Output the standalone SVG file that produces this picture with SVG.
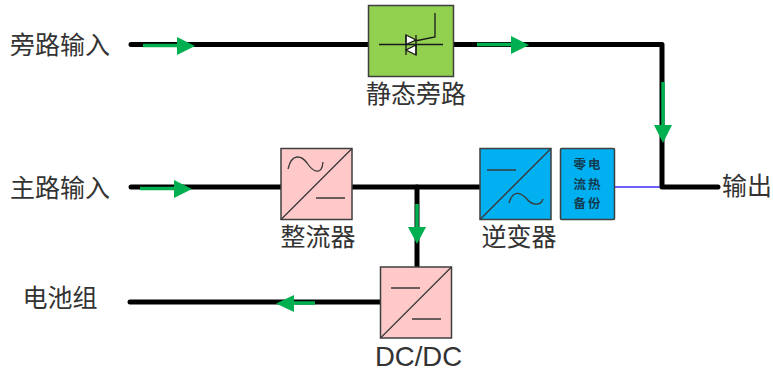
<svg xmlns="http://www.w3.org/2000/svg" width="773" height="372" viewBox="0 0 773 372">
<style>
.w{fill:none;stroke:#000;stroke-width:5;stroke-linecap:round;stroke-linejoin:round}
.g{fill:none;stroke:#00b050;stroke-width:3.500}
.h{fill:#00b050}
.b{stroke:#3f3f3f;stroke-width:1.500}
.s{fill:none;stroke:#3a3a3a;stroke-width:1.300}
.t{font-family:"Noto Sans CJK SC","Liberation Sans",sans-serif;font-size:25px;fill:#333;text-anchor:middle}
.e{font-family:"Liberation Sans",sans-serif;font-size:27.500px;fill:#333;text-anchor:middle}
.m{font-family:"Noto Sans CJK SC",sans-serif;font-size:12.500px;font-weight:700;fill:#123c50;text-anchor:middle;letter-spacing:2px}
</style>
<g id="connectors">
<path d="M615 187H660" fill="none" stroke="#3c2cf5" stroke-width="1.500"/>
<path class="w" d="M131 44.500H662V187H718"/>
<path class="w" d="M131 187H480"/>
<path class="w" d="M417 187V266"/>
<path class="w" d="M130 302H380"/>
<path class="g" d="M143 45.500H178"/><path class="h" d="M177 37L195 46L177 55Z"/>
<path class="g" d="M477 44.500H512"/><path class="h" d="M511 36L529 45L511 54Z"/>
<path class="g" d="M140 188.500H175"/><path class="h" d="M174 180L192 189L174 198Z"/>
<path class="g" d="M417 204V228"/><path class="h" d="M408 227L417 244L426 227Z"/>
<path class="g" d="M663 82V126"/><path class="h" d="M654 125L663 143L672 125Z"/>
<path class="g" d="M315 303H293"/><path class="h" d="M294 295L276 303.500L294 312Z"/>
</g>
<g id="static-bypass">
<rect class="b" x="368.500" y="5.500" width="85" height="71" fill="#92d050"/>
<path d="M379 44.500H443M435 13V37L415 41" fill="none" stroke="#1a1a1a" stroke-width="1.300"/>
<path d="M406 35L416 40L406 44.500Z" fill="#fff" stroke="#1a1a1a" stroke-width="1.300"/>
<path d="M416 45L406 50L416 55Z" fill="#fff" stroke="#1a1a1a" stroke-width="1.300"/>
<path d="M406 35V55M416 35V55" fill="none" stroke="#1a1a1a" stroke-width="1.300"/>
<text class="t" x="416" y="103">静态旁路</text>
</g>
<g id="rectifier">
<rect class="b" x="281" y="148.500" width="71" height="71" fill="#ffc9c9"/>
<path class="s" d="M281 219.500L352 148.500M316 198H345M288 169C292 152 302 156 307 163C313 172 322 176 323 162"/>
<text class="t" x="318" y="246">整流器</text>
</g>
<g id="inverter">
<rect class="b" x="480" y="148.500" width="71" height="71" fill="#00b0f0"/>
<path class="s" d="M480 219.500L551 148.500M487 170H516M509 203C513 190 520 192 526 198C532 206 541 206 543 199"/>
<text class="t" x="519" y="246">逆变器</text>
</g>
<g id="zero-current-backup">
<rect class="b" x="560.500" y="148.500" width="54" height="71" rx="1" fill="#00b0f0"/>
<text class="m" x="588" y="169">零电</text>
<text class="m" x="588" y="189">流热</text>
<text class="m" x="588" y="208">备份</text>
</g>
<g id="dcdc">
<rect class="b" x="380.500" y="267" width="71" height="71" fill="#ffc9c9"/>
<path class="s" d="M380.500 338L451.500 267M391 288H420M412 319H441"/>
<text class="e" x="418.500" y="366">DC/DC</text>
</g>
<g id="bypass-input"><text class="t" x="60" y="54">旁路输入</text></g>
<g id="main-input"><text class="t" x="60" y="197">主路输入</text></g>
<g id="battery"><text class="t" x="60" y="307">电池组</text></g>
<g id="output"><text class="t" x="747" y="195">输出</text></g>
</svg>
